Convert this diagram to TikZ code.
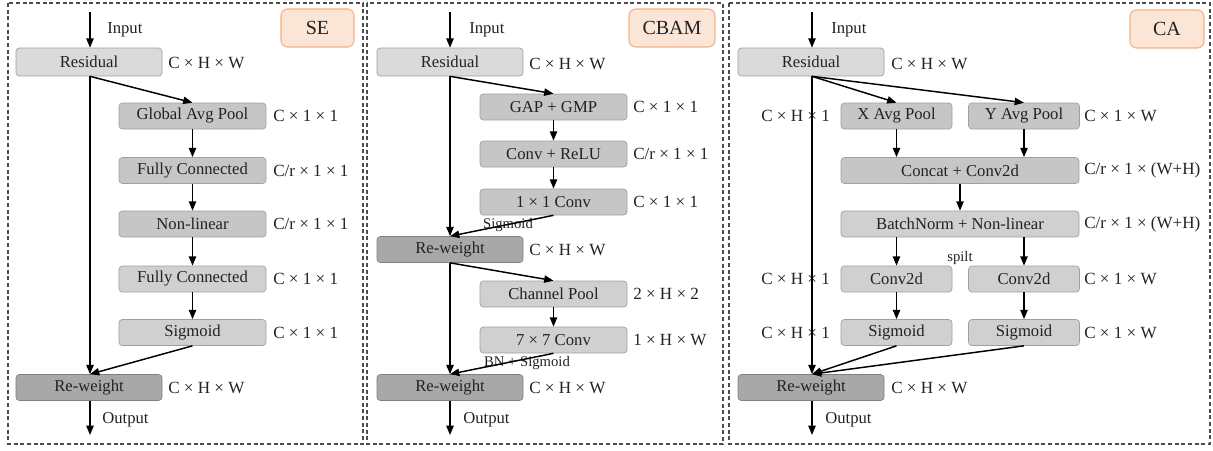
\documentclass[tikz,border=0pt]{standalone}
\usepackage{fontspec}
\setmainfont{Liberation Serif}
\usetikzlibrary{arrows.meta}
\definecolor{gres}{HTML}{DADADA}
\definecolor{gmid}{HTML}{C6C6C6}
\definecolor{glt}{HTML}{D0D0D0}
\definecolor{gwt}{HTML}{A8A8A8}
\definecolor{gedge}{HTML}{A0A0A0}
\definecolor{tagfill}{HTML}{FBE5D6}
\definecolor{tagdraw}{HTML}{F4B183}
\definecolor{txt}{HTML}{222222}
\begin{document}
\begin{tikzpicture}[x=0.75pt,y=-0.75pt,
  every node/.style={text=txt},
  blk/.style={draw=gedge, line width=0.5pt, rounded corners=2.5pt, minimum height=19.5pt, inner sep=0pt, font=\fontsize{12.5}{14}\selectfont},
  wres/.style={blk, fill=gres, minimum width=109.5pt, minimum height=21pt},
  wwt/.style={blk, fill=gwt, draw=gray, minimum width=109.5pt},
  bmid/.style={blk, fill=gmid, minimum width=110.25pt},
  blt/.style={blk, fill=glt, minimum width=110.25pt},
  bhalf/.style={blk, fill=gmid, minimum width=83.25pt},
  bhalflt/.style={blk, fill=glt, minimum width=83.25pt},
  bwide/.style={blk, fill=gmid, minimum width=178.5pt},
  bwidelt/.style={blk, fill=glt, minimum width=178.5pt},
  dim/.style={anchor=west, inner sep=0pt, font=\fontsize{12.8}{14}\selectfont},
  small/.style={inner sep=0pt, font=\fontsize{11}{12}\selectfont},
  io/.style={anchor=west, inner sep=0pt, font=\fontsize{12.5}{14}\selectfont},
  tag/.style={draw=tagdraw, fill=tagfill, line width=0.8pt, rounded corners=5pt, minimum height=28.5pt, inner sep=0pt, font=\fontsize{15}{17}\selectfont},
  arr/.style={-{Triangle[length=7pt,width=5.5pt]}, line width=1.1pt, draw=black},
  panel/.style={draw=black!70, line width=0.8pt, dash pattern=on 3pt off 2pt}
]
\useasboundingbox (0,0) rectangle (1213,450);

% panels
\draw[panel] (8,3) rectangle (363,444);
\draw[panel] (367,3) rectangle (723,444);
\draw[panel] (729,3) rectangle (1210,444);

%================ SE =================
\node[tag, minimum width=54.75pt] (setag) at (317.5,28) {SE};
\coordinate (sein) at (90,12);
\coordinate (seout) at (90,435);
\node[io] (seinl) at (107,30) {Input};
\node[io] (seoutl) at (102,420) {Output};
\node[wres] (seres) at (89,62) {Residual};
\node[bmid] (segap) at (192.5,116) {Global Avg Pool};
\node[bmid] (sefc1) at (192.5,170.5) {Fully Connected};
\node[bmid] (senl) at (192.5,224) {Non-linear};
\node[blt] (sefc2) at (192.5,279) {Fully Connected};
\node[blt] (sesig) at (192.5,332.5) {Sigmoid};
\node[wwt] (sewt) at (89,387.5) {Re-weight};
\node[dim] (sed0) at (168,63) {C × H × W};
\node[dim] (sed1) at (273,116) {C × 1 × 1};
\node[dim] (sed2) at (273,170.5) {C/r × 1 × 1};
\node[dim] (sed3) at (273,224) {C/r × 1 × 1};
\node[dim] (sed4) at (273,279) {C × 1 × 1};
\node[dim] (sed5) at (273,332.5) {C × 1 × 1};
\node[dim] (sed6) at (168,388) {C × H × W};
\draw[arr] (sein) -- (seres.north -| sein);
\draw[arr] (seres.south -| sein) -- (segap.north);
\draw[arr] (segap) -- (sefc1);
\draw[arr] (sefc1) -- (senl);
\draw[arr] (senl) -- (sefc2);
\draw[arr] (sefc2) -- (sesig);
\draw[arr] (seres.south -| sein) -- (sewt.north -| sein);
\draw[arr] (sesig.south) -- (sewt.north -| sein);
\draw[arr] (sewt.south -| seout) -- (seout);

%================ CBAM =================
\node[tag, minimum width=64.5pt] (cbtag) at (672,28) {CBAM};
\coordinate (cbin) at (450,12);
\coordinate (cbout) at (450,435);
\node[io] (cbinl) at (469,30) {Input};
\node[io] (cboutl) at (463,420) {Output};
\node[wres] (cbres) at (450,62) {Residual};
\node[bmid] (cbgap) at (553.5,107) {GAP + GMP};
\node[bmid] (cbconv) at (553.5,154) {Conv + ReLU};
\node[bmid] (cb11) at (553.5,202) {1 × 1 Conv};
\node[wwt] (cbwt1) at (450,249.5) {Re-weight};
\node[blt] (cbcp) at (553.5,294) {Channel Pool};
\node[blt] (cb77) at (553.5,340) {7 × 7 Conv};
\node[wwt] (cbwt2) at (450,387.5) {Re-weight};
\node[small] (cbsig) at (508,225) {Sigmoid};
\node[small] (cbbn) at (527,363) {BN + Sigmoid};
\node[dim] (cbd0) at (529,64) {C × H × W};
\node[dim] (cbd1) at (633,107) {C × 1 × 1};
\node[dim] (cbd2) at (633,154) {C/r × 1 × 1};
\node[dim] (cbd3) at (633,202) {C × 1 × 1};
\node[dim] (cbd4) at (529,250) {C × H × W};
\node[dim] (cbd5) at (633,294) {2 × H × 2};
\node[dim] (cbd6) at (633,340) {1 × H × W};
\node[dim] (cbd7) at (529,388) {C × H × W};
\draw[arr] (cbin) -- (cbres.north -| cbin);
\draw[arr] (cbres.south -| cbin) -- (cbgap.north);
\draw[arr] (cbgap) -- (cbconv);
\draw[arr] (cbconv) -- (cb11);
\draw[arr] (cbres.south -| cbin) -- (cbwt1.north -| cbin);
\draw[arr] (cb11.south) -- (cbwt1.north -| cbin);
\draw[arr] (cbwt1.south -| cbin) -- (cbcp.north);
\draw[arr] (cbcp) -- (cb77);
\draw[arr] (cbwt1.south -| cbin) -- (cbwt2.north -| cbin);
\draw[arr] (cb77.south) -- (cbwt2.north -| cbin);
\draw[arr] (cbwt2.south -| cbout) -- (cbout);

%================ CA =================
\node[tag, minimum width=55.5pt] (catag) at (1167,29) {CA};
\coordinate (cain) at (812,12);
\coordinate (caout) at (812,435);
\node[io] (cainl) at (831,30) {Input};
\node[io] (caoutl) at (825,420) {Output};
\node[wres] (cares) at (811,62) {Residual};
\node[bhalf] (caxp) at (896.5,116) {X Avg Pool};
\node[bhalf] (cayp) at (1024,116) {Y Avg Pool};
\node[bwide] (cacat) at (960,170.5) {Concat + Conv2d};
\node[bwidelt] (cabn) at (960,224) {BatchNorm + Non-linear};
\node[bhalflt] (cacx) at (896.5,279) {Conv2d};
\node[bhalflt] (cacy) at (1024,279) {Conv2d};
\node[bhalflt] (casx) at (896.5,332.5) {Sigmoid};
\node[bhalflt] (casy) at (1024,332.5) {Sigmoid};
\node[wwt] (cawt) at (811,387.5) {Re-weight};
\node[small] (caspl) at (960,258) {spilt};
\node[dim] (cad0) at (891,64) {C × H × W};
\node[dim] (cad1) at (1084,116) {C × 1 × W};
\node[dim] (cad2) at (1084,170.5) {C/r × 1 × (W+H)};
\node[dim] (cad3) at (1084,224) {C/r × 1 × (W+H)};
\node[dim] (cad4) at (1084,279) {C × 1 × W};
\node[dim] (cad5) at (1084,332.5) {C × 1 × W};
\node[dim] (cad6) at (891,388) {C × H × W};
\node[dim] (cal1) at (761,116) {C × H × 1};
\node[dim] (cal2) at (761,279) {C × H × 1};
\node[dim] (cal3) at (761,332.5) {C × H × 1};
\draw[arr] (cain) -- (cares.north -| cain);
\draw[arr] (cares.south -| cain) -- (caxp.north);
\draw[arr] (cares.south -| cain) -- (cayp.north);
\draw[arr] (caxp) -- (cacat.north -| caxp);
\draw[arr] (cayp) -- (cacat.north -| cayp);
\draw[arr] (cacat) -- (cabn);
\draw[arr] (cabn.south -| cacx) -- (cacx);
\draw[arr] (cabn.south -| cacy) -- (cacy);
\draw[arr] (cacx) -- (casx);
\draw[arr] (cacy) -- (casy);
\draw[arr] (cares.south -| cain) -- (cawt.north -| cain);
\draw[arr] (casx.south) -- (cawt.north -| cain);
\draw[arr] (casy.south) -- (cawt.north -| cain);
\draw[arr] (cawt.south -| caout) -- (caout);
\end{tikzpicture}
\end{document}
